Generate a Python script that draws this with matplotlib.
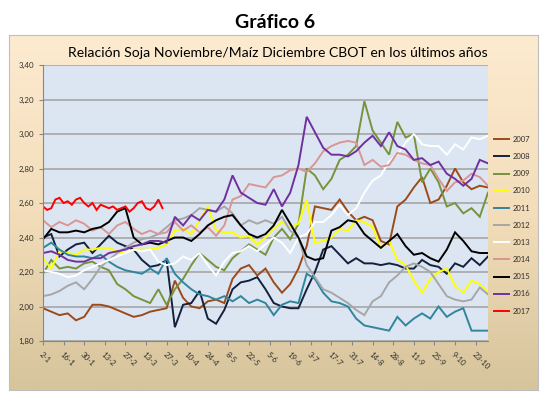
import numpy as np
import matplotlib
matplotlib.use('Agg')
import matplotlib.pyplot as plt
from matplotlib.colors import LinearSegmentedColormap

plt.rcParams['font.family'] = ['Lato', 'DejaVu Sans']

# ------------------------------------------------------------------ #
# Data, one value every 4 business days
# from 2-1 to 31-10; 2017 only up to mid March, one value every 2 days
# ------------------------------------------------------------------ #
years = ['2007', '2008', '2009', '2010', '2011', '2012',
         '2013', '2014', '2015', '2016', '2017']

tick_labels = ['2-1', '16-1', '30-1', '13-2', '27-2', '13-3', '27-3', '10-4',
               '24-4', '8-5', '22-5', '5-6', '19-6', '3-7', '17-7', '31-7',
               '14-8', '28-8', '11-9', '25-9', '9-10', '23-10']

days_full = np.arange(0, 217, 4)
days_2017 = np.arange(0, 59, 2)

v2007 = [1.99, 1.97, 1.95, 1.96, 1.92, 1.94, 2.01, 2.01, 2.00, 1.98,
         1.96, 1.94, 1.95, 1.97, 1.98, 1.99, 2.15, 2.05, 2.00, 1.99,
         2.03, 2.04, 2.02, 2.16, 2.22, 2.24, 2.18, 2.22, 2.14, 2.08,
         2.13, 2.22, 2.35, 2.58, 2.57, 2.56, 2.62, 2.55, 2.50, 2.52,
         2.50, 2.38, 2.36, 2.58, 2.62, 2.69, 2.75, 2.60, 2.62, 2.70,
         2.80, 2.72, 2.68, 2.70, 2.69]
v2008 = [2.40, 2.42, 2.29, 2.33, 2.36, 2.37, 2.31, 2.36, 2.41, 2.37,
         2.35, 2.33, 2.27, 2.23, 2.24, 2.27, 1.88, 2.01, 2.02, 2.09,
         1.93, 1.90, 1.98, 2.10, 2.14, 2.15, 2.17, 2.10, 2.02, 2.00,
         1.99, 1.99, 2.10, 2.20, 2.33, 2.35, 2.30, 2.25, 2.28, 2.25,
         2.25, 2.24, 2.25, 2.24, 2.22, 2.22, 2.27, 2.24, 2.23, 2.19,
         2.25, 2.23, 2.28, 2.24, 2.29]
v2009 = [2.19, 2.27, 2.22, 2.23, 2.22, 2.25, 2.26, 2.23, 2.21, 2.13,
         2.10, 2.06, 2.04, 2.02, 2.10, 2.01, 2.10, 2.16, 2.24, 2.31,
         2.27, 2.23, 2.21, 2.28, 2.32, 2.36, 2.33, 2.30, 2.40, 2.45,
         2.39, 2.48, 2.80, 2.76, 2.68, 2.74, 2.85, 2.88, 2.93, 3.19,
         3.02, 2.95, 2.88, 3.07, 2.98, 3.00, 2.72, 2.80, 2.72, 2.58,
         2.60, 2.54, 2.57, 2.52, 2.66]
v2010 = [2.28, 2.22, 2.32, 2.31, 2.30, 2.33, 2.33, 2.34, 2.34, 2.32,
         2.31, 2.33, 2.33, 2.33, 2.34, 2.36, 2.44, 2.45, 2.42, 2.50,
         2.58, 2.44, 2.43, 2.43, 2.40, 2.41, 2.36, 2.40, 2.45, 2.49,
         2.46, 2.48, 2.62, 2.37, 2.38, 2.40, 2.45, 2.44, 2.50, 2.49,
         2.46, 2.34, 2.38, 2.27, 2.24, 2.15, 2.08, 2.16, 2.20, 2.22,
         2.12, 2.08, 2.15, 2.13, 2.08]
v2011 = [2.34, 2.37, 2.33, 2.30, 2.29, 2.29, 2.28, 2.30, 2.26, 2.23,
         2.21, 2.20, 2.19, 2.22, 2.19, 2.28, 2.19, 2.14, 2.10, 2.07,
         2.06, 2.04, 2.06, 2.03, 2.06, 2.02, 2.04, 2.02, 1.95, 2.01,
         2.03, 2.02, 2.19, 2.16, 2.08, 2.03, 2.02, 2.00, 1.93, 1.89,
         1.88, 1.87, 1.86, 1.94, 1.89, 1.93, 1.96, 1.93, 2.00, 1.94,
         1.97, 1.99, 1.86, 1.86, 1.86]
v2012 = [2.06, 2.07, 2.09, 2.12, 2.14, 2.10, 2.16, 2.23, 2.27, 2.31,
         2.34, 2.37, 2.39, 2.40, 2.42, 2.46, 2.50, 2.51, 2.53, 2.57,
         2.56, 2.55, 2.58, 2.54, 2.47, 2.50, 2.48, 2.50, 2.48, 2.52,
         2.44, 2.40, 2.24, 2.17, 2.10, 2.08, 2.05, 2.02, 1.98, 1.95,
         2.03, 2.06, 2.14, 2.18, 2.23, 2.25, 2.23, 2.20, 2.13, 2.06,
         2.04, 2.03, 2.04, 2.11, 2.07]
v2013 = [2.21, 2.20, 2.19, 2.17, 2.18, 2.21, 2.23, 2.25, 2.27, 2.29,
         2.31, 2.33, 2.32, 2.33, 2.26, 2.24, 2.25, 2.29, 2.27, 2.31,
         2.24, 2.18, 2.26, 2.31, 2.32, 2.35, 2.32, 2.36, 2.40, 2.37,
         2.31, 2.40, 2.42, 2.49, 2.49, 2.53, 2.59, 2.53, 2.57, 2.66,
         2.73, 2.76, 2.84, 2.88, 2.95, 3.00, 2.94, 2.93, 2.93, 2.88,
         2.94, 2.91, 2.98, 2.97, 2.99]
v2014 = [2.50, 2.46, 2.49, 2.47, 2.50, 2.48, 2.44, 2.46, 2.42, 2.47,
         2.49, 2.45, 2.42, 2.44, 2.42, 2.43, 2.49, 2.44, 2.47, 2.43,
         2.46, 2.41, 2.47, 2.62, 2.64, 2.71, 2.70, 2.69, 2.75, 2.76,
         2.79, 2.80, 2.78, 2.83, 2.90, 2.93, 2.95, 2.96, 2.95, 2.82,
         2.85, 2.81, 2.82, 2.89, 2.88, 2.85, 2.83, 2.82, 2.74, 2.67,
         2.72, 2.73, 2.77, 2.75, 2.70]
v2015 = [2.39, 2.45, 2.43, 2.43, 2.44, 2.43, 2.45, 2.46, 2.49, 2.55,
         2.57, 2.40, 2.36, 2.37, 2.36, 2.38, 2.40, 2.40, 2.38, 2.42,
         2.47, 2.50, 2.52, 2.53, 2.47, 2.42, 2.40, 2.42, 2.47, 2.56,
         2.48, 2.40, 2.29, 2.27, 2.28, 2.44, 2.46, 2.50, 2.49, 2.42,
         2.38, 2.34, 2.38, 2.42, 2.35, 2.30, 2.31, 2.28, 2.26, 2.33,
         2.43, 2.38, 2.32, 2.31, 2.31]
v2016 = [2.31, 2.32, 2.30, 2.27, 2.26, 2.26, 2.28, 2.28, 2.31, 2.32,
         2.33, 2.35, 2.36, 2.38, 2.38, 2.37, 2.52, 2.47, 2.53, 2.50,
         2.56, 2.55, 2.62, 2.76, 2.66, 2.63, 2.60, 2.59, 2.68, 2.58,
         2.66, 2.82, 3.10, 3.01, 2.92, 2.88, 2.88, 2.87, 2.90, 2.95,
         2.99, 2.93, 3.01, 2.93, 2.91, 2.85, 2.86, 2.82, 2.84, 2.77,
         2.74, 2.70, 2.74, 2.85, 2.83]
v2017 = [2.58, 2.56, 2.57, 2.62, 2.63, 2.60, 2.61, 2.59, 2.62, 2.63,
         2.60, 2.58, 2.60, 2.56, 2.59, 2.58, 2.57, 2.58, 2.56, 2.57,
         2.58, 2.55, 2.57, 2.60, 2.61, 2.57, 2.56, 2.58, 2.62, 2.57]

series = [v2007, v2008, v2009, v2010, v2011, v2012,
          v2013, v2014, v2015, v2016, v2017]

colors = ['#9C4A1A', '#14213D', '#77933C', '#FFFF00', '#31859C', '#A6A6A6',
          '#FFFFFF', '#D99694', '#000000', '#7030A0', '#FF0000']

# ------------------------------------------------------------------ #
# Figure
# ------------------------------------------------------------------ #
fig = plt.figure(figsize=(5.5, 3.98), dpi=100)

# chart box with vertical gradient
bg = fig.add_axes([9 / 550, 1 - 390 / 398, 529 / 550, 355 / 398])
grad = np.linspace(0, 1, 256).reshape(-1, 1)
cmap = LinearSegmentedColormap.from_list('box', ['#FDEBD0', '#F3DDBA', '#D6C49C'])
bg.imshow(grad, aspect='auto', cmap=cmap, extent=[0, 1, 0, 1], origin='upper')
bg.set_xticks([])
bg.set_yticks([])
for s in bg.spines.values():
    s.set_color('#BFBFBF')
    s.set_linewidth(0.8)

fig.text(0.5, 1 - 28 / 398, 'Gráfico 6', ha='center', va='baseline',
         fontsize=14, fontweight='bold', color='black')
fig.text(278 / 550, 1 - 57 / 398,
         'Relación Soja Noviembre/Maíz Diciembre CBOT en los últimos años',
         ha='center', va='baseline', fontsize=10.1, color='black')

ax = fig.add_axes([43 / 550, 1 - 341 / 398, 445 / 550, 276 / 398])
ax.set_facecolor('#DCE6F2')

handles = []
for yr, vals, col in zip(years, series, colors):
    x = days_2017 if yr == '2017' else days_full
    ln, = ax.plot(x, vals, color=col, lw=1.4, label=yr, solid_joinstyle='miter')
    handles.append(ln)

ax.set_xlim(0, 216)
ax.set_ylim(1.8, 3.4)

yticks = np.arange(1.8, 3.41, 0.2)
ax.set_yticks(yticks)
ax.set_yticklabels([f'{v:.2f}'.replace('.', ',') for v in yticks])
ax.set_xticks(np.arange(0, 211, 10))
ax.set_xticklabels(tick_labels, rotation=-45, ha='left', va='top',
                   rotation_mode='anchor')
ax.tick_params(axis='both', labelsize=5.7, colors='#868686',
               labelcolor='#303030', length=3, width=0.8)
ax.tick_params(axis='x', pad=4)

ax.grid(axis='y', color='#A0A0A0', lw=1.1)
ax.set_axisbelow(True)
for side in ['top', 'right']:
    ax.spines[side].set_visible(False)
for side in ['left', 'bottom']:
    ax.spines[side].set_color('#868686')
    ax.spines[side].set_linewidth(0.8)

ax.legend(handles, years, loc='upper left',
          bbox_to_anchor=(494 / 550, 1 - 136 / 398),
          bbox_transform=fig.transFigure, frameon=False, fontsize=5.5,
          handlelength=2.0, handletextpad=0.4, labelspacing=1.33,
          borderpad=0, borderaxespad=0, labelcolor='#303030')

plt.savefig('out.png', dpi=100)
